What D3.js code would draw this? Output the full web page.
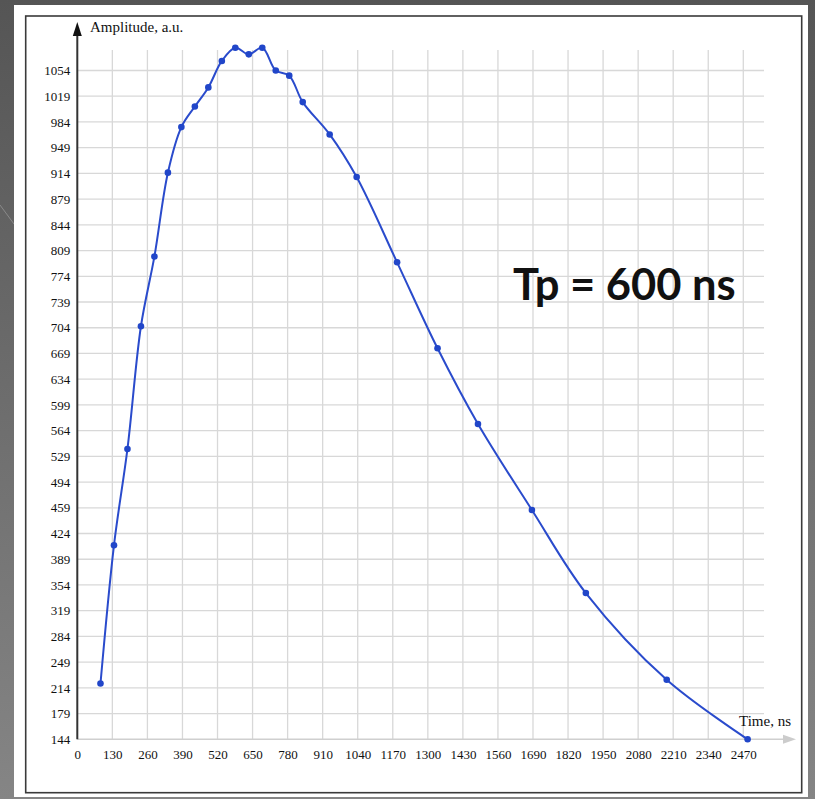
<!DOCTYPE html>
<html>
<head>
<meta charset="utf-8">
<script src="https://cdn.jsdelivr.net/npm/d3@7"></script>
<style>
  html, body { margin: 0; padding: 0; background: #5a5a5a; }
  svg { display: block; }
</style>
</head>
<body>
<div id="chart"></div>
<script>
// pulse samples
const times = [86, 136, 186, 236, 286, 336, 386, 436, 486, 536, 586, 636, 686,
    736, 786, 836, 936, 1036, 1186, 1336, 1486, 1686, 1886, 2186, 2486];
const amplitudes = [220, 408, 539, 706, 801, 915, 977, 1005, 1031, 1067, 1085, 1076, 1085,
    1054, 1047, 1011, 967, 909, 793, 676, 573, 456, 343, 225, 144];

const xTicks = [0, 130, 260, 390, 520, 650, 780, 910, 1040, 1170, 1300, 1430, 1560,
    1690, 1820, 1950, 2080, 2210, 2340, 2470];
const yTicks = [144, 179, 214, 249, 284, 319, 354, 389, 424, 459, 494, 529, 564, 599,
    634, 669, 704, 739, 774, 809, 844, 879, 914, 949, 984, 1019, 1054];

const W = 815, H = 799;
const data = times.map((t, i) => ({ t: t, v: amplitudes[i] }));
const serif = "'Liberation Serif', 'Times New Roman', serif";

const svg = d3.select("#chart")
    .append("svg")
    .attr("width", W)
    .attr("height", H);

// slide background
const grad = svg.append("defs").append("linearGradient")
    .attr("id", "bg").attr("x1", 0).attr("y1", 0).attr("x2", 0).attr("y2", 1);
grad.append("stop").attr("offset", "0%").attr("stop-color", "#555555");
grad.append("stop").attr("offset", "100%").attr("stop-color", "#858585");
svg.append("rect").attr("width", W).attr("height", H).attr("fill", "url(#bg)");
svg.append("line")
    .attr("x1", 0).attr("y1", 205).attr("x2", 14).attr("y2", 224)
    .attr("stroke", "#8a8a8a").attr("stroke-width", 1);

// white panel and frame
svg.append("rect")
    .attr("x", 14).attr("y", 5).attr("width", 794).attr("height", 792)
    .attr("fill", "#ffffff");
svg.append("rect")
    .attr("x", 25.7).attr("y", 16).attr("width", 776).attr("height", 776.7)
    .attr("fill", "none").attr("stroke", "#3a3a3a").attr("stroke-width", 1.6);

const x = d3.scaleLinear().domain([0, 2470]).range([77.3, 743.3]);
const y = d3.scaleLinear().domain([144, 1054]).range([739.3, 70.5]);

const gridTop = 50, gridRight = 764;

// grid lines
svg.append("g")
    .selectAll("line.vg")
    .data(xTicks.filter(d => d > 0))
    .enter()
    .append("line")
    .attr("x1", d => x(d)).attr("x2", d => x(d))
    .attr("y1", gridTop).attr("y2", y(144))
    .attr("stroke", "#d8d8d8").attr("stroke-width", 1.3);

svg.append("g")
    .selectAll("line.hg")
    .data(yTicks.filter(d => d > 144))
    .enter()
    .append("line")
    .attr("x1", x(0)).attr("x2", gridRight)
    .attr("y1", d => y(d)).attr("y2", d => y(d))
    .attr("stroke", "#d8d8d8").attr("stroke-width", 1.3);

// x axis (light gray with arrow)
svg.append("line")
    .attr("x1", x(0)).attr("x2", 786)
    .attr("y1", y(144)).attr("y2", y(144))
    .attr("stroke", "#cfcfcf").attr("stroke-width", 1.5);
svg.append("path")
    .attr("d", `M783,${y(144) - 4.5} L796,${y(144)} L783,${y(144) + 4.5} Z`)
    .attr("fill", "#cccccc");

// y axis (dark with arrow)
svg.append("line")
    .attr("x1", x(0)).attr("x2", x(0))
    .attr("y1", y(144)).attr("y2", 32)
    .attr("stroke", "#333333").attr("stroke-width", 2);
svg.append("path")
    .attr("d", `M${x(0) - 4.5},36 L${x(0)},22 L${x(0) + 4.5},36 Z`)
    .attr("fill", "#111111");

// tick labels
const yAxis = svg.append("g")
    .attr("transform", `translate(${x(0)},0)`)
    .call(d3.axisLeft(y).tickValues(yTicks).tickSize(0).tickPadding(7).tickFormat(d => d));
yAxis.select(".domain").remove();

const xAxis = svg.append("g")
    .attr("transform", `translate(0,${y(144)})`)
    .call(d3.axisBottom(x).tickValues(xTicks).tickSize(0).tickPadding(10).tickFormat(d => d));
xAxis.select(".domain").remove();

svg.selectAll(".tick text")
    .attr("fill", "#111")
    .style("font-family", serif)
    .style("font-size", "13px");

// axis titles
svg.append("text")
    .attr("x", 90).attr("y", 31.5)
    .style("font-family", serif)
    .style("font-size", "15px")
    .attr("fill", "#111")
    .text("Amplitude, a.u.");

svg.append("text")
    .attr("x", 739).attr("y", 726)
    .style("font-family", serif)
    .style("font-size", "15px")
    .attr("fill", "#111")
    .text("Time, ns");

// curve
const line = d3.line()
    .x(d => x(d.t))
    .y(d => y(d.v))
    .curve(d3.curveCatmullRom.alpha(0.5));

svg.append("path")
    .datum(data)
    .attr("fill", "none")
    .attr("stroke", "#2a4bcc")
    .attr("stroke-width", 2)
    .attr("d", line);

svg.selectAll(".pt")
    .data(data)
    .enter()
    .append("circle")
    .attr("class", "pt")
    .attr("cx", d => x(d.t))
    .attr("cy", d => y(d.v))
    .attr("r", 3.3)
    .attr("fill", "#2146c9");

// annotation
svg.append("text")
    .attr("x", 513).attr("y", 299.5)
    .style("font-family", "Lato, 'Noto Sans', sans-serif")
    .style("font-weight", "bold")
    .style("font-size", "43.5px")
    .attr("fill", "#111")
    .text("Tp = 600 ns");
</script>
</body>
</html>
